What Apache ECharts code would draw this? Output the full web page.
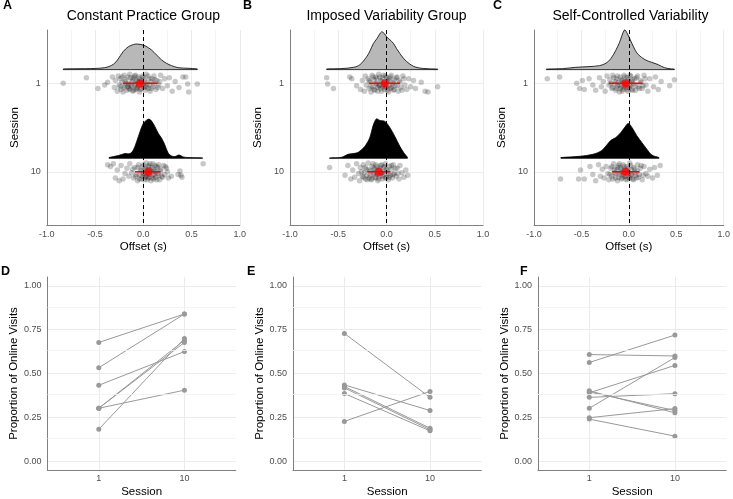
<!DOCTYPE html>
<html><head><meta charset="utf-8">
<script src="https://cdn.jsdelivr.net/npm/echarts@6/dist/echarts.min.js"></script>
<style>html,body{margin:0;padding:0;background:#fff}#c{width:733px;height:499px}</style>
</head><body><div id="c"></div><script>
const FONT = "'Liberation Sans', Arial, sans-serif";
const panelTitles = ['Constant Practice Group', 'Imposed Variability Group', 'Self-Controlled Variability'];
const panelLetters = ['A', 'B', 'C', 'D', 'E', 'F'];
const sessionLabels = ['1', '10'];
const sessionPos = [1, 2];
const propMajor = [0, 0.25, 0.5, 0.75, 1];
const propMinor = [0.125, 0.375, 0.625, 0.875];
const DENS_OFFSET = 0.153;

// density curves (x in s, height in session-axis units)
const densA1_x = [-0.83,-0.60,-0.40,-0.31,-0.26,-0.21,-0.155,-0.10,-0.069,0.0,0.052,0.086,0.138,0.19,0.241,0.293,0.362,0.465,0.56];
const densA1_h = [0.008,0.011,0.022,0.060,0.120,0.202,0.258,0.284,0.289,0.277,0.247,0.221,0.165,0.109,0.071,0.045,0.022,0.015,0.008];
const densA10_x = [-0.355,-0.259,-0.19,-0.138,-0.103,-0.069,-0.034,0.0,0.034,0.059,0.086,0.121,0.155,0.19,0.224,0.259,0.293,0.328,0.369,0.414,0.466,0.614];
const densA10_h = [0.008,0.030,0.053,0.053,0.093,0.188,0.300,0.393,0.430,0.442,0.419,0.356,0.281,0.225,0.149,0.056,0.026,0.019,0.037,0.015,0.008,0.004];
const densB1_x = [-0.62,-0.48,-0.34,-0.275,-0.205,-0.17,-0.137,-0.10,-0.05,-0.02,0.0,0.035,0.07,0.105,0.14,0.175,0.21,0.28,0.38,0.53];
const densB1_h = [0.008,0.011,0.026,0.056,0.146,0.213,0.292,0.348,0.427,0.404,0.371,0.337,0.298,0.236,0.180,0.129,0.090,0.037,0.013,0.006];
const densB10_x = [-0.59,-0.466,-0.397,-0.345,-0.293,-0.224,-0.172,-0.138,-0.103,-0.069,-0.017,0.034,0.086,0.138,0.183,0.217];
const densB10_h = [0.003,0.011,0.045,0.053,0.067,0.135,0.236,0.371,0.446,0.427,0.416,0.348,0.247,0.135,0.056,0.011];
const densC1_x = [-0.87,-0.70,-0.56,-0.42,-0.31,-0.24,-0.19,-0.14,-0.10,-0.045,-0.015,0.03,0.07,0.10,0.17,0.24,0.31,0.375,0.45,0.48];
const densC1_h = [0.006,0.011,0.026,0.034,0.045,0.073,0.124,0.213,0.303,0.449,0.404,0.300,0.213,0.169,0.112,0.082,0.056,0.022,0.008,0.006];
const densC10_x = [-0.717,-0.517,-0.379,-0.293,-0.241,-0.19,-0.138,-0.086,-0.041,-0.007,0.034,0.086,0.138,0.19,0.241,0.317];
const densC10_h = [0.008,0.022,0.045,0.082,0.138,0.202,0.233,0.289,0.352,0.393,0.345,0.251,0.176,0.101,0.037,0.008];

// individual trials: [offset (s), vertical jitter]
const ptsA1 = [[-0.83,0.00],[-0.59,-0.06],[-0.47,0.06],[-0.40,0.02],[-0.37,-0.01],[-0.32,-0.07],[-0.30,0.05],[-0.29,-0.03],[-0.27,0.09],[-0.26,-0.08],[-0.25,0.02],[-0.24,-0.05],[-0.23,0.07],[-0.22,-0.01],[-0.21,0.10],[-0.20,-0.09],[-0.19,0.03],[-0.18,-0.04],[-0.17,0.08],[-0.16,-0.07],[-0.15,0.01],[-0.15,0.06],[-0.14,-0.10],[-0.13,0.04],[-0.12,-0.02],[-0.11,0.09],[-0.10,-0.06],[-0.09,0.02],[-0.08,0.07],[-0.08,-0.09],[-0.07,-0.03],[-0.06,0.05],[-0.05,-0.07],[-0.04,0.10],[-0.03,-0.01],[-0.02,0.06],[-0.01,-0.08],[0.00,0.03],[0.01,-0.04],[0.02,0.08],[0.03,-0.10],[0.04,0.01],[0.05,0.06],[0.06,-0.05],[0.07,0.09],[0.08,-0.02],[0.10,0.04],[0.11,-0.08],[0.13,0.07],[0.14,-0.03],[0.16,0.02],[0.18,-0.09],[0.20,0.06],[0.22,-0.05],[0.25,0.03],[0.27,-0.06],[0.30,0.09],[0.33,-0.02],[0.37,0.05],[0.41,-0.07],[0.44,-0.07],[0.46,0.01],[0.47,0.10],[0.56,0.01],
  [-0.24,0.04],[-0.22,-0.07],[-0.20,0.05],[-0.19,-0.02],[-0.17,0.01],[-0.16,0.04],[-0.14,0.07],[-0.13,-0.06],[-0.12,0.03],[-0.11,-0.04],[-0.10,0.08],[-0.09,-0.08],[-0.08,0.01],[-0.07,0.06],[-0.06,-0.02],[-0.05,0.03],[-0.04,-0.05],[-0.03,0.07],[-0.02,-0.03],[-0.01,0.01],[0.00,-0.07],[0.01,0.05],[0.02,-0.01],[0.03,0.04],[0.05,-0.08],[0.06,0.02],[0.08,0.06],[0.09,-0.05],[0.11,0.01],[0.12,-0.04],[0.15,0.05],[0.17,-0.02]];
const ptsA10 = [[-0.37,-0.08],[-0.34,-0.06],[-0.31,-0.09],[-0.29,0.07],[-0.27,-0.02],[-0.25,0.10],[-0.23,-0.07],[-0.21,0.08],[-0.19,0.02],[-0.17,-0.04],[-0.15,0.05],[-0.14,-0.09],[-0.12,0.01],[-0.10,0.07],[-0.09,-0.05],[-0.07,0.03],[-0.06,0.10],[-0.05,-0.08],[-0.04,0.04],[-0.03,-0.02],[-0.02,0.08],[-0.01,-0.06],[0.00,0.02],[0.01,0.09],[0.02,-0.04],[0.03,0.05],[0.03,-0.10],[0.04,0.00],[0.05,0.07],[0.06,-0.07],[0.06,0.03],[0.07,-0.02],[0.08,0.10],[0.09,-0.05],[0.10,0.04],[0.10,-0.09],[0.11,0.08],[0.12,-0.01],[0.13,0.06],[0.14,-0.06],[0.15,0.02],[0.16,-0.08],[0.17,0.09],[0.18,-0.03],[0.19,0.05],[0.21,-0.07],[0.22,0.03],[0.24,-0.04],[0.26,0.07],[0.29,0.05],[0.36,0.03],[0.38,-0.01],[0.39,0.04],[0.40,0.06],[0.62,-0.09],
  [-0.11,-0.03],[-0.08,0.05],[-0.06,-0.05],[-0.04,0.08],[-0.02,-0.01],[-0.01,0.05],[0.00,-0.08],[0.01,0.03],[0.02,0.06],[0.03,-0.03],[0.04,0.09],[0.05,-0.06],[0.05,0.02],[0.06,0.06],[0.07,-0.09],[0.08,0.00],[0.09,0.07],[0.10,-0.03],[0.11,0.03],[0.12,-0.07],[0.13,0.00],[0.14,0.09],[0.15,-0.05],[0.16,0.04],[0.18,-0.01],[0.20,0.06],[0.23,-0.06],[0.25,0.00]];
const ptsB1 = [[-0.62,-0.06],[-0.61,0.01],[-0.55,0.06],[-0.38,-0.07],[-0.36,-0.05],[-0.31,0.03],[-0.27,0.07],[-0.25,-0.03],[-0.23,0.09],[-0.22,-0.08],[-0.21,0.02],[-0.19,-0.05],[-0.18,0.06],[-0.17,-0.01],[-0.16,0.10],[-0.15,-0.09],[-0.14,0.04],[-0.13,-0.04],[-0.12,0.08],[-0.11,-0.07],[-0.10,0.01],[-0.09,0.05],[-0.08,-0.10],[-0.07,0.03],[-0.06,-0.03],[-0.05,0.09],[-0.04,-0.06],[-0.03,0.02],[-0.02,0.07],[-0.01,-0.08],[0.00,0.04],[0.01,-0.02],[0.02,0.10],[0.03,-0.05],[0.04,0.06],[0.05,-0.09],[0.06,0.01],[0.07,0.08],[0.08,-0.04],[0.09,0.03],[0.11,-0.07],[0.12,0.09],[0.14,-0.01],[0.15,0.05],[0.17,-0.08],[0.19,0.02],[0.21,0.07],[0.23,-0.05],[0.25,0.04],[0.28,-0.03],[0.30,0.06],[0.36,-0.01],[0.40,0.09],[0.43,0.10],[0.53,0.04],
  [-0.18,-0.03],[-0.16,0.04],[-0.14,-0.07],[-0.13,0.07],[-0.11,0.00],[-0.10,-0.05],[-0.09,0.09],[-0.08,0.03],[-0.07,-0.07],[-0.06,0.06],[-0.05,-0.02],[-0.04,0.04],[-0.03,-0.09],[-0.02,0.00],[-0.01,0.05],[0.00,-0.06],[0.01,0.08],[0.02,-0.03],[0.03,0.03],[0.04,-0.07],[0.05,0.05],[0.07,-0.01],[0.08,0.07],[0.10,-0.06],[0.11,0.03],[0.13,-0.03],[0.16,0.08],[0.18,-0.05]];
const ptsB10 = [[-0.59,-0.05],[-0.43,0.04],[-0.40,-0.07],[-0.37,0.08],[-0.35,-0.02],[-0.33,0.06],[-0.31,-0.09],[-0.29,0.02],[-0.28,0.10],[-0.27,-0.05],[-0.25,0.05],[-0.24,-0.08],[-0.23,0.01],[-0.22,0.08],[-0.21,-0.03],[-0.20,0.04],[-0.19,-0.10],[-0.18,0.07],[-0.17,-0.01],[-0.16,0.09],[-0.15,-0.06],[-0.14,0.03],[-0.13,-0.04],[-0.12,0.06],[-0.11,-0.08],[-0.10,0.02],[-0.09,0.10],[-0.08,-0.02],[-0.07,0.05],[-0.06,-0.07],[-0.05,0.01],[-0.04,0.08],[-0.03,-0.05],[-0.02,0.03],[-0.01,-0.09],[0.00,0.06],[0.01,-0.01],[0.02,0.09],[0.03,-0.06],[0.04,0.04],[0.05,-0.03],[0.06,0.07],[0.07,-0.08],[0.08,0.02],[0.10,0.05],[0.11,-0.04],[0.13,0.08],[0.14,-0.07],[0.16,0.01],[0.18,0.06],[0.20,-0.02],[0.22,0.04],
  [-0.26,0.00],[-0.24,0.06],[-0.22,-0.05],[-0.20,0.09],[-0.18,-0.02],[-0.17,0.04],[-0.15,0.08],[-0.14,-0.09],[-0.13,0.01],[-0.12,-0.03],[-0.11,0.07],[-0.10,-0.06],[-0.09,0.03],[-0.08,0.08],[-0.07,-0.04],[-0.06,0.02],[-0.05,-0.08],[-0.04,0.05],[-0.03,0.00],[-0.02,-0.06],[-0.01,0.07],[0.00,-0.03],[0.02,0.02],[0.03,0.06],[0.05,-0.07],[0.07,0.03],[0.09,-0.04],[0.12,0.02]];
const ptsC1 = [[-0.86,-0.05],[-0.73,-0.07],[-0.55,0.00],[-0.52,0.06],[-0.49,-0.03],[-0.47,0.07],[-0.42,-0.05],[-0.38,0.02],[-0.35,0.08],[-0.31,-0.06],[-0.29,0.04],[-0.27,-0.02],[-0.25,0.09],[-0.23,-0.08],[-0.21,0.02],[-0.20,-0.04],[-0.18,0.06],[-0.17,-0.09],[-0.15,0.01],[-0.14,0.08],[-0.13,-0.05],[-0.12,0.03],[-0.11,-0.01],[-0.10,0.10],[-0.09,-0.07],[-0.08,0.04],[-0.07,-0.03],[-0.06,0.07],[-0.05,-0.09],[-0.04,0.02],[-0.03,0.05],[-0.02,-0.06],[-0.01,0.09],[0.00,-0.02],[0.01,0.03],[0.02,-0.08],[0.03,0.07],[0.04,-0.04],[0.05,0.01],[0.07,0.08],[0.08,-0.06],[0.10,0.04],[0.12,-0.03],[0.14,0.06],[0.16,-0.09],[0.18,0.02],[0.20,0.09],[0.22,-0.05],[0.26,0.04],[0.28,-0.07],[0.31,0.07],[0.34,-0.02],[0.43,0.03],[0.48,-0.04],
  [-0.19,0.00],[-0.17,0.05],[-0.16,-0.06],[-0.14,-0.02],[-0.13,0.06],[-0.12,-0.08],[-0.10,0.02],[-0.09,0.06],[-0.08,-0.04],[-0.07,0.09],[-0.06,-0.01],[-0.05,0.04],[-0.04,-0.07],[-0.03,0.00],[-0.02,0.07],[-0.01,-0.04],[0.00,0.05],[0.01,-0.09],[0.02,0.02],[0.03,-0.02],[0.04,0.08],[0.06,-0.05],[0.07,0.03],[0.09,-0.08],[0.11,0.06],[0.13,-0.01],[0.15,0.03],[0.17,-0.05]];
const ptsC10 = [[-0.72,0.08],[-0.53,0.08],[-0.51,-0.02],[-0.47,0.08],[-0.41,-0.06],[-0.38,0.03],[-0.35,0.10],[-0.32,-0.08],[-0.30,0.05],[-0.28,-0.03],[-0.26,0.07],[-0.24,-0.06],[-0.22,0.02],[-0.21,0.09],[-0.19,-0.04],[-0.18,0.05],[-0.16,-0.09],[-0.15,0.01],[-0.14,0.07],[-0.13,-0.02],[-0.12,0.10],[-0.11,-0.07],[-0.10,0.03],[-0.09,-0.05],[-0.08,0.08],[-0.07,0.00],[-0.06,-0.08],[-0.05,0.05],[-0.04,-0.03],[-0.03,0.09],[-0.02,-0.06],[-0.01,0.02],[0.00,0.06],[0.01,-0.10],[0.02,0.04],[0.03,-0.02],[0.04,0.08],[0.05,-0.05],[0.06,0.01],[0.08,0.07],[0.09,-0.08],[0.11,0.03],[0.12,-0.04],[0.14,0.09],[0.16,-0.06],[0.18,0.02],[0.20,0.05],[0.22,-0.03],[0.25,0.07],[0.27,-0.05],[0.30,0.04],[0.33,-0.07],
  [-0.20,0.03],[-0.18,-0.06],[-0.17,0.08],[-0.15,-0.03],[-0.14,0.02],[-0.12,-0.05],[-0.11,0.06],[-0.10,-0.09],[-0.09,0.01],[-0.08,-0.03],[-0.07,0.07],[-0.06,0.03],[-0.05,-0.06],[-0.04,0.05],[-0.03,-0.01],[-0.02,0.08],[-0.01,-0.04],[0.00,0.01],[0.01,0.07],[0.02,-0.07],[0.03,0.03],[0.05,0.09],[0.06,-0.03],[0.07,0.04],[0.09,-0.01],[0.10,0.06],[0.13,-0.07],[0.15,0.04]];

// mean and error bar per session
const meanA = [-0.034, 0.05],  loA = [-0.21, -0.086], hiA = [0.15, 0.18];
const meanB = [-0.017, -0.08], loB = [-0.18, -0.20],  hiB = [0.14, 0.04];
const meanC = [-0.034, -0.034], loC = [-0.21, -0.18], hiC = [0.145, 0.11];

// proportion of online visits, paired session 1 -> session 10
const propD_s1  = [0.677, 0.533, 0.433, 0.302, 0.302, 0.302, 0.182];
const propD_s10 = [0.839, 0.839, 0.625, 0.405, 0.690, 0.677, 0.700];
const propE_s1  = [0.728, 0.227, 0.435, 0.426, 0.418, 0.386];
const propE_s10 = [0.364, 0.398, 0.289, 0.188, 0.180, 0.173];
const propF_s1  = [0.563, 0.608, 0.390, 0.302, 0.364, 0.401, 0.248, 0.240, 0.395];
const propF_s10 = [0.719, 0.600, 0.546, 0.591, 0.385, 0.276, 0.300, 0.143, 0.289];

const topData = [
  {dens: [[densA1_x, densA1_h], [densA10_x, densA10_h]], pts: [ptsA1, ptsA10], mean: meanA, lo: loA, hi: hiA},
  {dens: [[densB1_x, densB1_h], [densB10_x, densB10_h]], pts: [ptsB1, ptsB10], mean: meanB, lo: loB, hi: hiB},
  {dens: [[densC1_x, densC1_h], [densC10_x, densC10_h]], pts: [ptsC1, ptsC10], mean: meanC, lo: loC, hi: hiC}
];
const botData = [[propD_s1, propD_s10], [propE_s1, propE_s10], [propF_s1, propF_s10]];

const AX = '#808080', GRID = '#ebebeb', MINOR = '#f1f1f1', TICK = '#4d4d4d';
const densFill = ['#b8b8b8', '#000000'];

const topLeft = [46.8, 290, 534];
const botLeft = [47.4, 293, 537.9];
const grids = [], xAxes = [], yAxes = [], series = [];
const nameStyle = {fontSize: 11.5, color: '#000', fontFamily: FONT};
const lblStyle = {fontSize: 9, color: TICK, fontFamily: FONT};

for (let i = 0; i < 3; i++) {
  grids.push({left: topLeft[i], top: 30, width: 193, height: 195});
  xAxes.push({gridIndex: i, type: 'value', min: -1, max: 1, interval: 0.5,
    axisLine: {show: true, onZero: false, lineStyle: {color: AX, width: 1}},
    axisTick: {show: false},
    axisLabel: Object.assign({margin: 5, formatter: v => v.toFixed(1)}, lblStyle),
    splitLine: {show: true, lineStyle: {color: GRID, width: 1}},
    minorTick: {show: false, splitNumber: 2},
    minorSplitLine: {show: true, lineStyle: {color: MINOR, width: 0.8}},
    name: 'Offset (s)', nameLocation: 'middle', nameGap: 16, nameTextStyle: nameStyle});
  yAxes.push({gridIndex: i, type: 'value', min: 0.4, max: 2.6, inverse: true,
    axisLine: {show: true, onZero: false, lineStyle: {color: AX, width: 1}},
    axisTick: {show: false, customValues: sessionPos},
    axisLabel: Object.assign({margin: 6, customValues: sessionPos, formatter: v => sessionLabels[sessionPos.indexOf(v)]}, lblStyle),
    splitLine: {show: true, lineStyle: {color: GRID, width: 1}},
    name: 'Session', nameLocation: 'middle', nameGap: 26, nameTextStyle: nameStyle});
}
for (let i = 0; i < 3; i++) {
  const gi = 3 + i;
  grids.push({left: botLeft[i], top: 277, width: 188.4, height: 196});
  xAxes.push({gridIndex: gi, type: 'value', min: 0.4, max: 2.6,
    axisLine: {show: true, onZero: false, lineStyle: {color: AX, width: 1}},
    axisTick: {show: false, customValues: sessionPos},
    axisLabel: Object.assign({margin: 4, customValues: sessionPos, formatter: v => sessionLabels[sessionPos.indexOf(v)]}, lblStyle),
    splitLine: {show: true, lineStyle: {color: GRID, width: 1}},
    name: 'Session', nameLocation: 'middle', nameGap: 16, nameTextStyle: nameStyle});
  yAxes.push({gridIndex: gi, type: 'value', min: -0.05, max: 1.05,
    axisLine: {show: true, onZero: false, lineStyle: {color: AX, width: 1}},
    axisTick: {show: false, customValues: propMajor},
    axisLabel: Object.assign({margin: 6, customValues: propMajor, formatter: v => v.toFixed(2)}, lblStyle),
    splitLine: {show: true, lineStyle: {color: GRID, width: 1}},
    name: 'Proportion of Online Visits', nameLocation: 'middle', nameGap: 26, nameTextStyle: nameStyle});
}

function densitySeries(idx, pos, xs, hs, fill) {
  const base = pos - DENS_OFFSET;
  return {
    type: 'custom', xAxisIndex: idx, yAxisIndex: idx, z: 3, silent: true, animation: false,
    data: xs.map((x, k) => [x, base - hs[k]]),
    renderItem: function (params, api) {
      if (params.dataIndex !== 0) return null;
      const pts = [api.coord([xs[0], base])];
      for (let k = 0; k < xs.length; k++) pts.push(api.coord([xs[k], base - hs[k]]));
      pts.push(api.coord([xs[xs.length - 1], base]));
      let minX = Infinity, minY = Infinity, maxX = -Infinity, maxY = -Infinity;
      pts.forEach(p => { minX = Math.min(minX, p[0]); maxX = Math.max(maxX, p[0]); minY = Math.min(minY, p[1]); maxY = Math.max(maxY, p[1]); });
      return {type: 'polygon', shape: {points: pts, smooth: 0.35, smoothConstraint: [[minX, minY], [maxX, maxY]]},
        style: {fill: fill, stroke: '#000', lineWidth: 0.8}};
    }
  };
}

for (let i = 0; i < 3; i++) {
  const d = topData[i];
  for (let s = 0; s < 2; s++) {
    const pos = sessionPos[s];
    series.push(densitySeries(i, pos, d.dens[s][0], d.dens[s][1], densFill[s]));
    const sc = {type: 'scatter', xAxisIndex: i, yAxisIndex: i, z: 2, silent: true, animation: false,
      symbolSize: 5.5, itemStyle: {color: 'rgba(0,0,0,0.27)'},
      data: d.pts[s].map(p => [p[0], pos + p[1]])};
    if (s === 0) {
      sc.markLine = {silent: true, symbol: 'none', animation: false, label: {show: false},
        lineStyle: {type: [4, 3], color: '#000', width: 1}, data: [{xAxis: 0}]};
    }
    series.push(sc);
    series.push({type: 'line', xAxisIndex: i, yAxisIndex: i, z: 4, silent: true, animation: false,
      symbol: 'none', lineStyle: {color: '#ff0000', width: 1.5},
      data: [[d.lo[s], pos], [d.hi[s], pos]]});
    series.push({type: 'scatter', xAxisIndex: i, yAxisIndex: i, z: 5, silent: true, animation: false,
      symbolSize: 8, itemStyle: {color: '#ff0000'}, data: [[d.mean[s], pos]]});
  }
}
for (let i = 0; i < 3; i++) {
  const gi = 3 + i;
  const [s1, s10] = botData[i];
  s1.forEach((v, k) => {
    const ser = {type: 'line', xAxisIndex: gi, yAxisIndex: gi, z: 2, silent: true, animation: false,
      symbol: 'circle', symbolSize: 5, showSymbol: true,
      lineStyle: {color: '#999999', width: 1}, itemStyle: {color: '#999999'},
      data: [[sessionPos[0], v], [sessionPos[1], s10[k]]]};
    if (k === 0) {
      ser.markLine = {silent: true, symbol: 'none', animation: false, label: {show: false},
        lineStyle: {type: 'solid', color: MINOR, width: 0.8},
        data: propMinor.map(m => ({yAxis: m}))};
    }
    series.push(ser);
  });
}

const titleX = [143.3, 386.5, 630.5];
const letterPos = [[3, 6], [243, 6], [493, 6], [1, 272], [247, 272], [520, 272]];
const graphic = [];
panelTitles.forEach((t, i) => graphic.push({type: 'text', x: titleX[i], y: 16, silent: true,
  style: {text: t, fontSize: 14, fontFamily: FONT, fill: '#000', align: 'center', verticalAlign: 'middle'}}));
panelLetters.forEach((t, i) => graphic.push({type: 'text', x: letterPos[i][0], y: letterPos[i][1], silent: true,
  style: {text: t, fontSize: 12.5, fontWeight: 'bold', fontFamily: FONT, fill: '#000', align: 'left', verticalAlign: 'middle'}}));

const chart = echarts.init(document.getElementById('c'), null, {renderer: 'canvas'});
chart.setOption({
  animation: false, backgroundColor: '#fff',
  textStyle: {fontFamily: FONT},
  grid: grids, xAxis: xAxes, yAxis: yAxes, series: series, graphic: graphic
});
</script></body></html>
